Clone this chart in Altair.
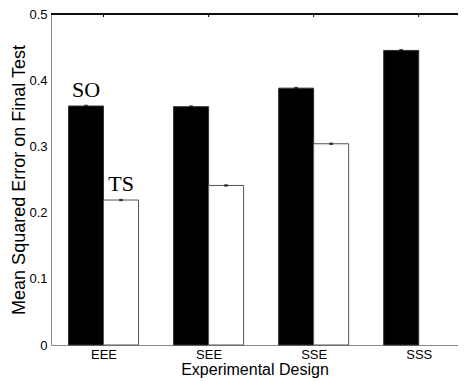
import json
import altair as alt
import pandas as pd

categories = ["EEE", "SEE", "SSE", "SSS"]
series = ["SO", "TS"]
so_mse = [0.361, 0.360, 0.388, 0.445]
ts_mse = [0.219, 0.241, 0.304, None]
so_err = [0.0012, 0.0012, 0.0012, 0.0012]
ts_err = [0.0010, 0.0010, 0.0010, None]
y_ticks = [0, 0.1, 0.2, 0.3, 0.4, 0.5]

rows = []
for i, c in enumerate(categories):
    for s, vals, errs in (("SO", so_mse, so_err), ("TS", ts_mse, ts_err)):
        if vals[i] is None:
            continue
        rows.append({"category": c, "idx": i + 1, "series": s, "mse": vals[i], "err": errs[i]})
df = pd.DataFrame(rows)
pos_df = pd.DataFrame({"idx": list(range(1, len(categories) + 1))})

W, H = 407, 331
xs = alt.Scale(domain=[0.5, 4.374], nice=False, zero=False)
ys = alt.Scale(domain=[0, 0.5], nice=False, zero=True)

base = alt.Chart(df).transform_calculate(
    x0="datum.series == 'SO' ? datum.idx - 1/3 : datum.idx",
    x1="datum.series == 'SO' ? datum.idx : datum.idx + 1/3",
    xc="(datum.x0 + datum.x1) / 2",
    lo="datum.mse - datum.err",
    hi="datum.mse + datum.err",
)

label_expr = json.dumps(categories) + "[datum.value - 1]"

bars = base.mark_bar(strokeWidth=1).encode(
    x=alt.X("x0:Q", scale=xs, axis=alt.Axis(
        values=list(range(1, len(categories) + 1)), labelExpr=label_expr,
        title="Experimental Design", ticks=False, labelPadding=3, titlePadding=0,
        labelFontSize=13, titleFontSize=16, titleFontWeight="normal", grid=False)),
    x2="x1:Q",
    y=alt.Y("mse:Q", scale=ys, axis=alt.Axis(
        values=y_ticks, format="~g", title="Mean Squared Error on Final Test",
        ticks=False, labelPadding=4, titlePadding=0, labelFontSize=13,
        titleFontSize=18, titleFontWeight="normal", grid=False)),
    y2=alt.datum(0),
    fill=alt.Fill("series:N", scale=alt.Scale(domain=series, range=["#000000", "#ffffff"]), legend=None),
    stroke=alt.Stroke("series:N", scale=alt.Scale(domain=series, range=["#333333", "#555555"]), legend=None),
)

err_rule = base.mark_rule(color="black", strokeWidth=1).encode(
    x="xc:Q", y="lo:Q", y2="hi:Q")
cap_hi = base.mark_tick(orient="horizontal", size=4, thickness=1, color="black").encode(
    x="xc:Q", y="hi:Q")
cap_lo = base.mark_tick(orient="horizontal", size=4, thickness=1, color="black").encode(
    x="xc:Q", y="lo:Q")

labels = base.transform_filter(
    alt.datum.category == categories[0]
).mark_text(font="Liberation Serif", fontSize=22, baseline="alphabetic",
            align="center", dy=-9, color="black").encode(
    x="xc:Q", y="mse:Q", text="series:N")

top_line = alt.Chart(pos_df).mark_rule(color="black", strokeWidth=1).encode(
    x=alt.value(0), x2=alt.value(W), y=alt.value(0))
top_ticks = alt.Chart(pos_df).mark_rule(color="black", strokeWidth=1).encode(
    x=alt.X("idx:Q", scale=xs), y=alt.value(0), y2=alt.value(3))

chart = alt.layer(bars, err_rule, cap_hi, cap_lo, labels, top_line, top_ticks).properties(
    width=W, height=H,
    autosize=alt.AutoSizeParams(type="none"),
    padding={"left": 43, "top": 6, "right": 0, "bottom": 34},
).configure_view(stroke=None).configure_axis(
    domainColor="black", domainWidth=1, labelColor="black", titleColor="black",
    labelFont="Liberation Sans", titleFont="Liberation Sans", titleFontWeight="normal",
).configure(background="white")

chart.save("out.html", embed_options={"renderer": "svg", "actions": False})
